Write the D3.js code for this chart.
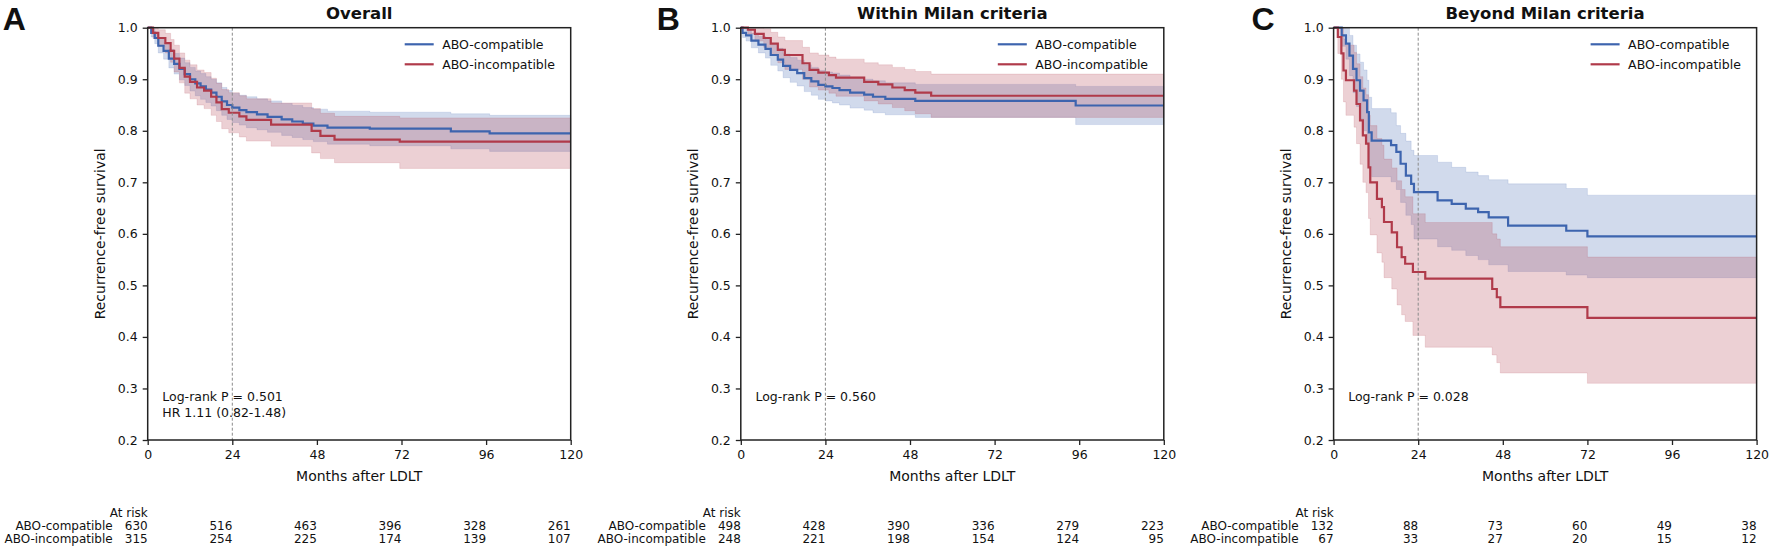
<!DOCTYPE html>
<html>
<head>
<meta charset="utf-8">
<script src="https://cdn.jsdelivr.net/npm/d3@7"></script>
<style>
  html, body { margin: 0; padding: 0; background: #fff; }
  svg text { font-family: "DejaVu Sans", sans-serif; fill: #111; }
</style>
</head>
<body>
<svg id="chart" width="1772" height="549"></svg>
<script>
// Tick labels and categories
const monthTicks = [0, 24, 48, 72, 96, 120];
const survTicks = [0.2, 0.3, 0.4, 0.5, 0.6, 0.7, 0.8, 0.9, 1.0];
const panelLetters = ["A", "B", "C"];
const panelTitles = ["Overall", "Within Milan criteria", "Beyond Milan criteria"];
const groupNames = ["ABO-compatible", "ABO-incompatible"];
const statLines = [
  ["Log-rank P = 0.501", "HR 1.11 (0.82-1.48)"],
  ["Log-rank P = 0.560"],
  ["Log-rank P = 0.028"]
];

// Numbers at risk at 0, 24, 48, 72, 96, 120 months
const riskCompatible = [
  [630, 516, 463, 396, 328, 261],
  [498, 428, 390, 336, 279, 223],
  [132, 88, 73, 60, 49, 38]
];
const riskIncompatible = [
  [315, 254, 225, 174, 139, 107],
  [248, 221, 198, 154, 124, 95],
  [67, 33, 27, 20, 15, 12]
];

// Kaplan-Meier steps: [month, survival, lower CI, upper CI]
const overallCompatible = [
  [0, 1, 1, 1], [1, 0.99, 0.982, 0.998], [2, 0.98, 0.969, 0.991], [3, 0.965, 0.951, 0.979],
  [4.5, 0.955, 0.939, 0.971], [6, 0.94, 0.922, 0.958], [7.5, 0.93, 0.91, 0.95],
  [9, 0.92, 0.899, 0.941], [10.5, 0.91, 0.888, 0.932], [12, 0.9, 0.877, 0.923],
  [13.5, 0.892, 0.868, 0.916], [15, 0.886, 0.861, 0.911], [16.5, 0.88, 0.855, 0.905],
  [18, 0.874, 0.848, 0.9], [19.5, 0.866, 0.839, 0.893], [21, 0.857, 0.83, 0.884],
  [22.5, 0.85, 0.822, 0.878], [24, 0.845, 0.816, 0.873], [26, 0.84, 0.811, 0.869],
  [28, 0.836, 0.806, 0.866], [31, 0.832, 0.802, 0.862], [34, 0.827, 0.797, 0.858],
  [38, 0.822, 0.791, 0.853], [41, 0.818, 0.787, 0.849], [44, 0.814, 0.783, 0.845],
  [47, 0.81, 0.779, 0.842], [51, 0.806, 0.774, 0.838], [63, 0.804, 0.771, 0.836],
  [86, 0.799, 0.765, 0.833], [97, 0.795, 0.76, 0.83]
];
const overallIncompatible = [
  [0, 1, 1, 1], [1.5, 0.99, 0.979, 1.0], [3, 0.98, 0.964, 0.996], [5, 0.97, 0.951, 0.989],
  [6.5, 0.955, 0.933, 0.977], [7.5, 0.94, 0.914, 0.966], [9, 0.922, 0.893, 0.951],
  [10.5, 0.905, 0.873, 0.937], [12, 0.895, 0.862, 0.928], [14, 0.884, 0.85, 0.918],
  [16, 0.878, 0.843, 0.913], [18, 0.866, 0.83, 0.902], [19.5, 0.855, 0.818, 0.892],
  [21, 0.842, 0.804, 0.88], [23, 0.835, 0.796, 0.874], [26, 0.828, 0.788, 0.868],
  [28, 0.821, 0.78, 0.862], [35, 0.812, 0.77, 0.854], [46.5, 0.8, 0.757, 0.843],
  [49, 0.79, 0.746, 0.834], [53, 0.783, 0.738, 0.828], [71.5, 0.779, 0.727, 0.825]
];
const milanCompatible = [
  [0, 1, 1, 1], [0.5, 0.99, 0.981, 0.999], [1.5, 0.985, 0.974, 0.996], [3, 0.975, 0.961, 0.989],
  [5, 0.967, 0.951, 0.983], [7, 0.959, 0.941, 0.977], [8.5, 0.947, 0.927, 0.967],
  [10.5, 0.938, 0.916, 0.96], [12, 0.926, 0.903, 0.949], [14, 0.918, 0.894, 0.942],
  [16, 0.912, 0.887, 0.937], [18, 0.902, 0.876, 0.928], [20, 0.896, 0.869, 0.923],
  [22, 0.889, 0.861, 0.917], [24, 0.886, 0.858, 0.914], [26, 0.883, 0.854, 0.912],
  [28, 0.879, 0.85, 0.908], [31, 0.874, 0.844, 0.904], [35, 0.87, 0.84, 0.9],
  [37.5, 0.866, 0.835, 0.897], [41, 0.862, 0.831, 0.893], [49.5, 0.858, 0.826, 0.89],
  [95, 0.849, 0.812, 0.886]
];
const milanIncompatible = [
  [0, 1, 1, 1], [2, 0.996, 0.988, 1.0], [4, 0.988, 0.974, 1.0], [6.5, 0.98, 0.962, 0.998],
  [8.5, 0.969, 0.947, 0.991], [10.5, 0.957, 0.932, 0.982], [12.5, 0.947, 0.919, 0.975],
  [17.5, 0.931, 0.9, 0.962], [19.5, 0.918, 0.885, 0.951], [22, 0.913, 0.879, 0.947],
  [25, 0.908, 0.873, 0.943], [27, 0.903, 0.867, 0.939], [35, 0.895, 0.858, 0.932],
  [39, 0.89, 0.852, 0.928], [43, 0.884, 0.845, 0.923], [46.5, 0.879, 0.839, 0.919],
  [49.5, 0.874, 0.833, 0.915], [54, 0.868, 0.826, 0.91]
];
const beyondCompatible = [
  [0, 1, 1, 1], [2.3, 0.985, 0.964, 1.0], [3.5, 0.969, 0.939, 0.999], [4.5, 0.946, 0.907, 0.985],
  [5.5, 0.92, 0.874, 0.966], [6.5, 0.898, 0.847, 0.949], [7.5, 0.878, 0.823, 0.933],
  [8.5, 0.859, 0.8, 0.918], [9.5, 0.836, 0.774, 0.898], [10, 0.797, 0.729, 0.865],
  [10.8, 0.781, 0.711, 0.843], [16.3, 0.772, 0.701, 0.835], [17.8, 0.759, 0.686, 0.81],
  [19, 0.736, 0.661, 0.795], [20.5, 0.713, 0.636, 0.78], [22, 0.697, 0.618, 0.762],
  [22.8, 0.681, 0.59, 0.752], [29.5, 0.665, 0.575, 0.739], [33.5, 0.658, 0.568, 0.729],
  [37.5, 0.649, 0.558, 0.72], [41, 0.642, 0.55, 0.713], [44, 0.632, 0.54, 0.705],
  [49.5, 0.616, 0.527, 0.697], [66, 0.606, 0.52, 0.688], [72, 0.595, 0.515, 0.675]
];
const beyondIncompatible = [
  [0, 1, 1, 1], [1.2, 0.982, 0.95, 1.0], [2.2, 0.95, 0.9, 1.0], [2.8, 0.917, 0.856, 0.978],
  [3.5, 0.898, 0.83, 0.966], [5.8, 0.878, 0.807, 0.952], [6.5, 0.852, 0.775, 0.93],
  [7.5, 0.82, 0.735, 0.905], [8.3, 0.791, 0.7, 0.883], [9.2, 0.775, 0.68, 0.87],
  [9.9, 0.729, 0.63, 0.83], [10.4, 0.7, 0.598, 0.81], [12.3, 0.668, 0.563, 0.785],
  [13.7, 0.652, 0.545, 0.772], [14.3, 0.623, 0.515, 0.745], [16.5, 0.603, 0.493, 0.728],
  [18, 0.574, 0.462, 0.703], [19.3, 0.555, 0.443, 0.686], [20.3, 0.542, 0.43, 0.672],
  [22.5, 0.526, 0.403, 0.639], [26, 0.513, 0.38, 0.622], [45, 0.493, 0.365, 0.6],
  [46.3, 0.477, 0.35, 0.59], [47.3, 0.458, 0.33, 0.575], [72, 0.437, 0.31, 0.555]
];

const panelCurves = [
  [overallCompatible, overallIncompatible],
  [milanCompatible, milanIncompatible],
  [beyondCompatible, beyondIncompatible]
];

// Layout
const plotLefts = [147.7, 740.8, 1333.6];
const letterOffsets = [145, 84, 82];
const plotW = 423, plotTop = 27.7, plotBottom = 440;
const lineColors = ["#3d64ae", "#b03a4a"];

const svg = d3.select("#chart");

const y = d3.scaleLinear().domain([0.2, 1.0]).range([plotBottom, plotTop]);

panelLetters.forEach((letter, p) => {
  const left = plotLefts[p];
  const x = d3.scaleLinear().domain([0, 120]).range([left, left + plotW]);
  const g = svg.append("g");

  // Panel letter and title
  g.append("text")
    .attr("x", left - letterOffsets[p])
    .attr("y", 30)
    .style("font-family", "'Liberation Sans', Arial, sans-serif")
    .style("font-weight", "bold")
    .style("font-size", "32px")
    .text(letter);
  g.append("text")
    .attr("x", left + plotW / 2)
    .attr("y", 19)
    .attr("text-anchor", "middle")
    .style("font-weight", "bold")
    .style("font-size", "16.5px")
    .text(panelTitles[p]);

  // CI bands and survival steps
  const area = d3.area()
    .x(d => x(d[0]))
    .y0(d => y(d[2]))
    .y1(d => y(d[3]))
    .curve(d3.curveStepAfter);
  const line = d3.line()
    .x(d => x(d[0]))
    .y(d => y(d[1]))
    .curve(d3.curveStepAfter);

  const extended = panelCurves[p].map(rows => {
    const last = rows[rows.length - 1];
    return rows.concat([[120, last[1], last[2], last[3]]]);
  });

  extended.forEach((rows, i) => {
    g.append("path")
      .attr("d", area(rows))
      .attr("fill", lineColors[i])
      .attr("fill-opacity", 0.24)
      .attr("stroke", lineColors[i])
      .attr("stroke-opacity", 0.18)
      .attr("stroke-width", 0.8);
  });
  extended.forEach((rows, i) => {
    g.append("path")
      .attr("d", line(rows))
      .attr("fill", "none")
      .attr("stroke", lineColors[i])
      .attr("stroke-width", 2.2);
  });

  // 24-month reference line
  g.append("line")
    .attr("x1", x(24)).attr("x2", x(24))
    .attr("y1", plotTop).attr("y2", plotBottom)
    .attr("stroke", "#8a8a8a")
    .attr("stroke-width", 1)
    .attr("stroke-dasharray", "3,2");

  // Axes
  const xAxis = d3.axisBottom(x).tickValues(monthTicks).tickSize(5).tickPadding(5);
  const yAxis = d3.axisLeft(y).tickValues(survTicks).tickFormat(d3.format(".1f")).tickSize(5).tickPadding(5);

  const xg = g.append("g").attr("transform", `translate(0,${plotBottom})`).call(xAxis);
  const yg = g.append("g").attr("transform", `translate(${left},0)`).call(yAxis);
  [xg, yg].forEach(a => {
    a.select(".domain").remove();
    a.selectAll(".tick line").attr("stroke", "#222").attr("stroke-width", 1.3);
    a.selectAll(".tick text").style("font-size", "12.5px").attr("fill", "#111");
  });

  // Frame
  g.append("rect")
    .attr("x", left).attr("y", plotTop)
    .attr("width", plotW).attr("height", plotBottom - plotTop)
    .attr("fill", "none")
    .attr("stroke", "#222")
    .attr("stroke-width", 1.5);

  // Axis labels
  g.append("text")
    .attr("x", left + plotW / 2)
    .attr("y", 481)
    .attr("text-anchor", "middle")
    .style("font-size", "14px")
    .text("Months after LDLT");
  g.append("text")
    .attr("transform", `translate(${left - 43},${(plotTop + plotBottom) / 2}) rotate(-90)`)
    .attr("text-anchor", "middle")
    .style("font-size", "14px")
    .text("Recurrence-free survival");

  // Legend
  groupNames.forEach((name, i) => {
    const ly = 44.3 + i * 20;
    g.append("line")
      .attr("x1", left + plotW - 166).attr("x2", left + plotW - 137)
      .attr("y1", ly).attr("y2", ly)
      .attr("stroke", lineColors[i])
      .attr("stroke-width", 2.2);
    g.append("text")
      .attr("x", left + plotW - 128.5)
      .attr("y", ly + 4.5)
      .style("font-size", "12.5px")
      .text(name);
  });

  // Statistics
  statLines[p].forEach((s, i) => {
    g.append("text")
      .attr("x", left + 14.6)
      .attr("y", 401 + i * 15.6)
      .style("font-size", "12.5px")
      .text(s);
  });

  // Numbers at risk
  g.append("text")
    .attr("x", left)
    .attr("y", 516.7)
    .attr("text-anchor", "end")
    .style("font-size", "12px")
    .text("At risk");
  [riskCompatible[p], riskIncompatible[p]].forEach((counts, i) => {
    const ry = 530 + i * 12.6;
    g.append("text")
      .attr("x", left - 35)
      .attr("y", ry)
      .attr("text-anchor", "end")
      .style("font-size", "12px")
      .text(groupNames[i]);
    g.selectAll(null)
      .data(counts)
      .enter()
      .append("text")
      .attr("x", (d, k) => x(monthTicks[k]))
      .attr("y", ry)
      .attr("text-anchor", "end")
      .style("font-size", "12px")
      .text(d => d);
  });
});
</script>
</body>
</html>
